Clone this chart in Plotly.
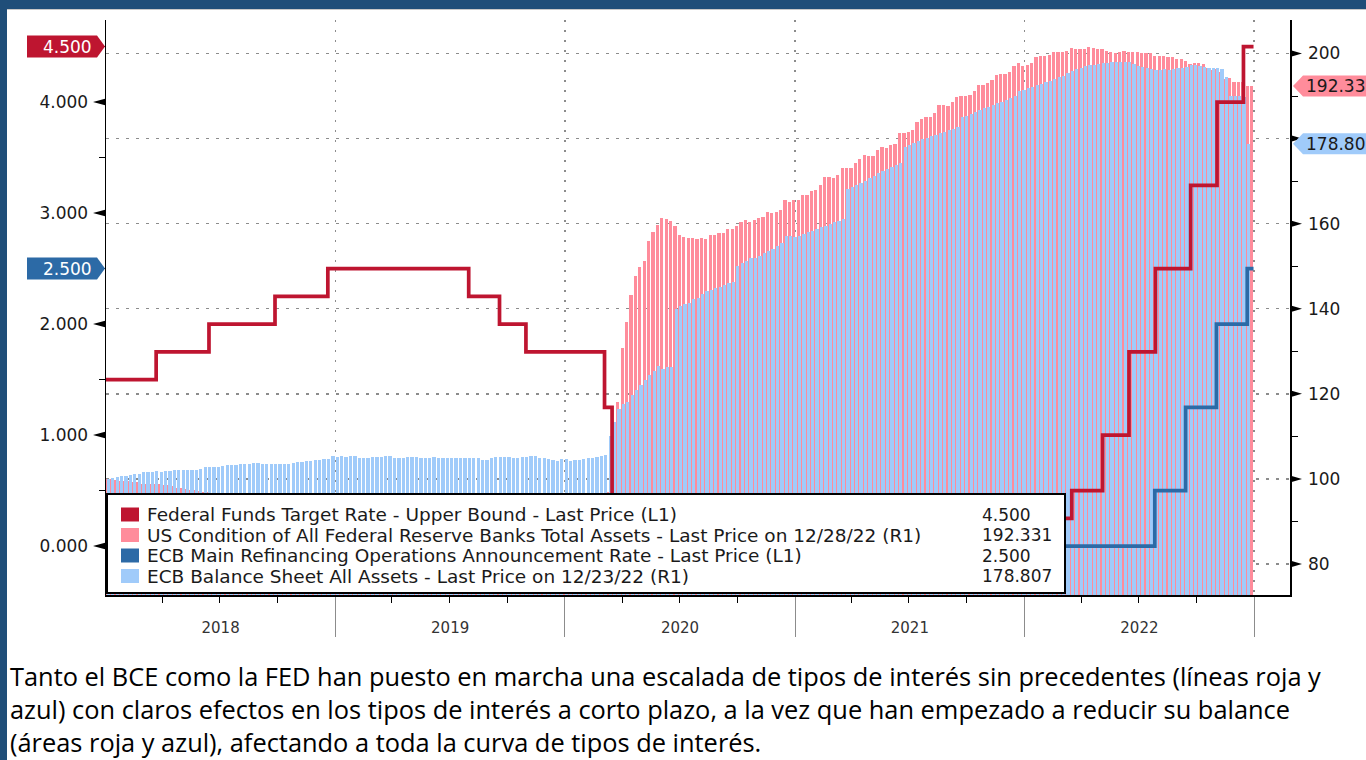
import plotly.graph_objects as go
import pandas as pd

# ---------------- DATA ----------------
# Weekly Fed total assets, indexed (R1), Wednesdays from 2018-01-03
fed_assets_2018 = [100.0, 99.9, 99.8, 99.6, 99.6,
                   99.4, 99.2, 99.3, 98.9,
                   98.9, 98.8, 98.7, 98.9,
                   98.6, 98.6, 98.3, 97.8,
                   97.8, 97.6, 97.3, 97.4, 97.2,
                   97.0, 96.9, 96.6, 96.6,
                   96.5, 96.1, 96.0, 95.9,
                   95.5, 95.2, 95.3, 94.9, 94.9,
                   94.7, 94.7, 94.3, 94.2,
                   93.7, 93.4, 93.4, 93.1, 92.9,
                   92.9, 92.5, 92.4, 92.3,
                   92.0, 91.7, 91.3, 91.3]
fed_assets_2019 = [91.1, 90.9, 91.1, 91.1, 90.8,
                   90.6, 90.4, 90.2, 90.0,
                   89.5, 89.1, 88.8, 88.4,
                   88.4, 88.8, 88.2, 88.2,
                   88.4, 88.4, 87.9, 87.9, 87.3,
                   86.8, 86.8, 86.1, 85.9,
                   85.7, 85.5, 85.7, 85.0, 85.5,
                   85.0, 84.8, 84.6, 84.6,
                   84.6, 85.0, 86.8, 87.0,
                   88.6, 88.8, 89.3, 89.5, 90.9,
                   90.9, 90.9, 91.3, 91.8,
                   92.2, 92.2, 92.7, 93.1]
fed_assets_2020 = [93.8, 93.6, 93.2, 93.3, 93.5,
                   93.7, 93.5, 94.1, 94.2,
                   95.4, 96.9, 105.1, 118.1,
                   130.7, 136.8, 143.3, 147.8, 149.8,
                   151.2, 155.9, 158.1, 159.7,
                   161.3, 161.2, 160.6, 159.5,
                   157.4, 156.8, 156.6, 156.6, 156.3,
                   156.6, 156.3, 157.4, 157.4,
                   157.7, 157.7, 158.8, 158.8, 159.5,
                   160.4, 160.8, 160.4, 160.8,
                   161.3, 161.5, 162.8, 162.4,
                   162.8, 163.1, 165.5, 165.1, 165.5]
fed_assets_2021 = [165.5, 166.7, 166.7, 167.6,
                   167.8, 169.1, 170.9, 170.9,
                   170.7, 171.4, 173.0, 173.0, 173.0,
                   174.3, 175.2, 176.1, 175.9,
                   175.9, 177.2, 178.1, 177.9,
                   178.6, 178.8, 181.3, 181.3, 181.5,
                   182.0, 183.8, 184.7, 185.1,
                   185.1, 186.0, 187.8, 187.8,
                   187.6, 188.7, 189.8, 190.1, 190.1,
                   190.3, 191.2, 192.5, 192.5,
                   193.0, 193.7, 195.0, 195.2,
                   195.2, 195.7, 197.0, 197.7, 197.0]
fed_assets_2022 = [197.3, 197.7, 199.1, 199.5,
                   199.5, 199.7, 200.4, 200.4,
                   200.4, 200.6, 201.3, 201.1, 201.1,
                   201.1, 201.5, 201.3, 201.1,
                   201.1, 200.6, 200.4, 200.2,
                   200.4, 200.6, 200.4, 200.4, 200.4,
                   200.2, 200.0, 200.2, 199.5,
                   199.5, 199.3, 199.1, 199.1, 198.8,
                   198.6, 198.2, 197.5, 197.7,
                   197.7, 197.5, 196.6, 196.1,
                   196.4, 195.7, 194.1, 194.3, 193.4,
                   193.4, 193.2, 192.3, 192.331]
fed_assets = fed_assets_2018 + fed_assets_2019 + fed_assets_2020 + fed_assets_2021 + fed_assets_2022
fed_assets_start = "2018-01-03"

# Weekly ECB balance sheet, indexed (R1), Fridays from 2018-01-05
ecb_assets_2018 = [100.0, 100.3, 100.5, 100.6,
                   100.8, 101.0, 101.2, 101.2,
                   101.6, 101.6, 101.7, 101.8, 101.7,
                   101.9, 101.9, 102.0, 102.0,
                   102.1, 102.1, 102.2, 102.2,
                   102.4, 102.8, 102.8, 102.8, 102.8,
                   103.1, 103.3, 103.3, 103.3,
                   103.4, 103.5, 103.5, 103.8, 103.8,
                   103.6, 103.5, 103.5, 103.6,
                   103.6, 103.6, 103.6, 103.8,
                   103.9, 103.9, 104.1, 104.3, 104.5,
                   104.5, 104.7, 104.7, 105.4]
ecb_assets_2019 = [105.2, 105.4, 105.1, 105.4,
                   105.3, 105.0, 105.0, 105.0,
                   105.1, 105.1, 105.2, 105.4, 105.3,
                   104.9, 104.9, 105.0, 105.2,
                   105.1, 105.1, 104.9, 104.9, 105.0,
                   105.1, 104.9, 104.8, 104.8,
                   104.8, 104.9, 104.8, 104.8,
                   104.8, 104.8, 104.8, 104.5, 104.5,
                   104.9, 105.1, 105.1, 105.2,
                   105.1, 104.9, 104.9, 105.1,
                   105.2, 105.4, 105.3, 105.0, 105.0,
                   104.7, 104.5, 104.2, 104.6]
ecb_assets_2020 = [104.6, 104.3, 104.4, 104.5, 104.6,
                   104.8, 104.9, 105.2, 105.4,
                   105.6, 110.1, 113.4, 116.5,
                   117.6, 118.1, 119.8, 120.9,
                   122.1, 123.3, 124.5, 125.4, 126.6,
                   125.9, 126.3, 126.3, 140.0,
                   140.7, 141.2, 141.4, 142.4, 142.6,
                   143.5, 144.2, 144.5, 144.9,
                   145.2, 145.6, 146.0, 146.4,
                   150.1, 150.8, 151.2, 152.0, 152.0,
                   152.3, 153.2, 153.6, 154.1,
                   154.8, 155.5, 157.0, 157.0]
ecb_assets_2021 = [156.8, 157.2, 157.6, 158.0, 158.3,
                   158.7, 159.1, 159.5, 159.9,
                   160.3, 160.7, 161.1, 168.2,
                   168.6, 169.1, 169.6, 170.0, 170.8,
                   171.3, 171.8, 172.3, 172.8,
                   173.3, 173.8, 174.3, 178.0,
                   178.5, 178.9, 179.4, 179.8, 180.2,
                   180.6, 180.9, 181.2, 181.5,
                   181.9, 182.3, 182.7, 185.0,
                   185.4, 185.8, 186.2, 186.6, 187.1,
                   187.5, 187.9, 188.3, 188.7,
                   189.1, 189.5, 189.9, 191.2, 191.5]
ecb_assets_2022 = [191.8, 192.2, 192.6, 192.9,
                   193.3, 193.6, 194.0, 194.4,
                   194.8, 195.3, 195.8, 196.3,
                   196.7, 197.0, 197.2, 197.4, 197.6,
                   197.7, 197.8, 197.9, 198.0,
                   198.0, 197.9, 197.9, 197.5,
                   197.0, 196.8, 196.5, 196.3, 196.2,
                   196.2, 196.3, 196.2, 196.3,
                   196.5, 196.6, 196.9, 197.2, 197.2,
                   197.0, 196.8, 196.7, 196.5,
                   196.5, 196.4, 194.4, 190.1,
                   190.0, 190.0, 189.8, 178.807]
ecb_assets = ecb_assets_2018 + ecb_assets_2019 + ecb_assets_2020 + ecb_assets_2021 + ecb_assets_2022
ecb_assets_start = "2018-01-05"

# Policy rates (L1), step changes
fed_rate_dates = ["2018-01-01", "2018-03-22", "2018-06-14", "2018-09-27", "2018-12-20",
                  "2019-08-01", "2019-09-19", "2019-10-31", "2020-03-04", "2020-03-16",
                  "2022-03-17", "2022-05-05", "2022-06-16", "2022-07-28", "2022-09-22",
                  "2022-11-03", "2022-12-15", "2022-12-31"]
fed_rate = [1.50, 1.75, 2.00, 2.25, 2.50, 2.25, 2.00, 1.75, 1.25, 0.25,
            0.50, 1.00, 1.75, 2.50, 3.25, 4.00, 4.50, 4.50]
ecb_rate_dates = ["2018-01-01", "2022-07-27", "2022-09-14", "2022-11-02", "2022-12-21", "2022-12-31"]
ecb_rate = [0.00, 0.50, 1.25, 2.00, 2.50, 2.50]

left_ticks = [0, 1, 2, 3, 4]
left_minor = [0.5, 1.5, 2.5, 3.5, 4.5]
right_ticks = [80, 100, 120, 140, 160, 180, 200]
right_ticktext = ["80", "100", "120", "140", "160", "", "200"]
right_minor = [90, 110, 130, 150, 170, 190]

legend_names = [
    "Federal Funds Target Rate - Upper Bound - Last Price (L1)",
    "US Condition of All Federal Reserve Banks Total Assets - Last Price on 12/28/22 (R1)",
    "ECB Main Refinancing Operations Announcement Rate - Last Price (L1)",
    "ECB Balance Sheet All Assets - Last Price on 12/23/22 (R1)",
]
caption_lines = [
    "Tanto el BCE como la FED han puesto en marcha una escalada de tipos de interés sin precedentes (líneas roja y",
    "azul) con claros efectos en los tipos de interés a corto plazo, a la vez que han empezado a reducir su balance",
    "(áreas roja y azul), afectando a toda la curva de tipos de interés.",
]

# ---------------- STYLE ----------------
C_FED_LINE = "#BE1530"
C_FED_BAR = "#FF8C9B"
C_ECB_LINE = "#2C6AA6"
C_ECB_BAR = "#A0CBFA"
C_FRAME = "#1F4E79"
TXT = "#1a1a1a"
FONT = "DejaVu Sans"

W, H = 1366, 760
PL, PR, PT, PB = 106, 1290, 20, 595
L_RANGE = [-0.441, 4.739]
R_RANGE = [72.71, 207.87]
L_PPU = (PB - PT) / (L_RANGE[1] - L_RANGE[0])
R_PPU = (PB - PT) / (R_RANGE[1] - R_RANGE[0])


def px(x):
    return (x - PL) / (PR - PL)


def py(y):
    return (PB - y) / (PB - PT)


fed_dates = pd.date_range(fed_assets_start, periods=len(fed_assets), freq="7D")
ecb_dates = pd.date_range(ecb_assets_start, periods=len(ecb_assets), freq="7D")
bar_w = 5.2 * 86400000

fig = go.Figure()
fig.add_trace(go.Bar(x=fed_dates, y=fed_assets, yaxis="y", width=bar_w,
                     marker=dict(color=C_FED_BAR, line=dict(width=0)), showlegend=False))
fig.add_trace(go.Bar(x=ecb_dates, y=ecb_assets, yaxis="y", width=bar_w,
                     marker=dict(color=C_ECB_BAR, line=dict(width=0)), showlegend=False))
fig.add_trace(go.Scatter(x=fed_rate_dates, y=fed_rate, yaxis="y2", mode="lines",
                         line=dict(color=C_FED_LINE, width=3.7, shape="hv"), showlegend=False))
fig.add_trace(go.Scatter(x=ecb_rate_dates, y=ecb_rate, yaxis="y2", mode="lines",
                         line=dict(color=C_ECB_LINE, width=3.7, shape="hv"), showlegend=False))

shapes = []
ann = []
# frame strips
shapes.append(dict(type="rect", xref="paper", yref="paper", x0=px(0), x1=px(7), y0=py(H), y1=py(0),
                   fillcolor=C_FRAME, line=dict(width=0), layer="above"))
shapes.append(dict(type="rect", xref="paper", yref="paper", x0=px(0), x1=px(W), y0=py(9), y1=py(0),
                   fillcolor=C_FRAME, line=dict(width=0), layer="above"))
shapes.append(dict(type="line", xref="paper", yref="paper", x0=px(7), x1=px(W), y0=py(9.5), y1=py(9.5),
                   line=dict(color="#c8c8c8", width=1), layer="above"))

# tick triangles
hl = 3.5 / L_PPU
for v in left_ticks:
    shapes.append(dict(type="path", xref="paper", yref="y2",
                       path=f"M {px(PL)},{v - hl} L {px(PL)},{v + hl} L {px(93)},{v} Z",
                       fillcolor="black", line=dict(width=0)))
hr = 3.5 / R_PPU
for v in right_ticks:
    shapes.append(dict(type="path", xref="paper", yref="y",
                       path=f"M {px(PR)},{v - hr} L {px(PR)},{v + hr} L {px(1302)},{v} Z",
                       fillcolor="black", line=dict(width=0)))

# value tags (left)
tl = 11 / L_PPU
for val, col in [(fed_rate[-1], C_FED_LINE), (ecb_rate[-1], C_ECB_LINE)]:
    shapes.append(dict(type="path", xref="paper", yref="y2",
                       path=(f"M {px(27)},{val - tl} L {px(97)},{val - tl} L {px(105)},{val} "
                             f"L {px(97)},{val + tl} L {px(27)},{val + tl} Z"),
                       fillcolor=col, line=dict(width=0)))
    ann.append(dict(xref="paper", yref="y2", x=px(94), y=val, xanchor="right", yanchor="middle",
                    text=f"{val:.3f}", showarrow=False, font=dict(family=FONT, size=17, color="white")))
# value tags (right)
tr = 10.5 / R_PPU
for val, col in [(fed_assets[-1], C_FED_BAR), (ecb_assets[-1], C_ECB_BAR)]:
    shapes.append(dict(type="path", xref="paper", yref="y",
                       path=(f"M {px(1293)},{val} L {px(1303)},{val - tr} L {px(1380)},{val - tr} "
                             f"L {px(1380)},{val + tr} L {px(1303)},{val + tr} Z"),
                       fillcolor=col, line=dict(width=0)))
    ann.append(dict(xref="paper", yref="y", x=px(1304), y=val, xanchor="left", yanchor="middle",
                    text=f"{val:.3f}", showarrow=False, font=dict(family=FONT, size=17, color=TXT)))

# manual legend
shapes.append(dict(type="rect", xref="paper", yref="paper", x0=px(107), x1=px(1065), y0=py(593), y1=py(494),
                   fillcolor="white", line=dict(color="black", width=2), layer="above"))
legend_cols = [C_FED_LINE, C_FED_BAR, C_ECB_LINE, C_ECB_BAR]
legend_vals = [f"{fed_rate[-1]:.3f}", f"{fed_assets[-1]:.3f}", f"{ecb_rate[-1]:.3f}", f"{ecb_assets[-1]:.3f}"]
row_y = [514.5, 535, 555.5, 576]
for name, col, val, yy in zip(legend_names, legend_cols, legend_vals, row_y):
    shapes.append(dict(type="rect", xref="paper", yref="paper", x0=px(121), x1=px(139),
                       y0=py(yy + 7), y1=py(yy - 7), fillcolor=col, line=dict(width=0), layer="above"))
    ann.append(dict(xref="paper", yref="paper", x=px(145), y=py(yy), xanchor="left", yanchor="middle",
                    text=name, showarrow=False, font=dict(family=FONT, size=18.5, color=TXT)))
    ann.append(dict(xref="paper", yref="paper", x=px(980), y=py(yy), xanchor="left", yanchor="middle",
                    text=val, showarrow=False, font=dict(family=FONT, size=17, color=TXT)))

# caption (single text block)
ann.append(dict(xref="paper", yref="paper", x=px(8), y=py(657), xanchor="left", yanchor="top",
                align="left", text="<br>".join(caption_lines), showarrow=False,
                font=dict(family="Open Sans", size=25.4, color="black")))

fig.update_layout(
    width=W, height=H, autosize=False,
    margin=dict(l=PL, r=W - PR, t=PT, b=H - PB, pad=0),
    paper_bgcolor="white", plot_bgcolor="white",
    barmode="overlay", bargap=0,
    shapes=shapes, annotations=ann,
    xaxis=dict(type="date", range=["2018-01-01 06:00", "2023-02-27"],
               tick0="2018-01-01", dtick="M12", ticklabelmode="period", tickformat="%Y",
               ticks="outside", ticklen=40, tickcolor="#8c8c8c", tickwidth=1,
               ticklabelstandoff=-22,
               tickfont=dict(family=FONT, size=15, color="#333333"),
               showgrid=True, gridcolor="#8c8c8c", griddash="2px,8px", gridwidth=1.5,
               showline=True, linecolor="black", linewidth=1.5, zeroline=False,
               minor=dict(tick0="2018-01-01", dtick="M3", ticks="outside", ticklen=6,
                          tickcolor="black", tickwidth=1, showgrid=False)),
    yaxis=dict(side="right", range=R_RANGE, tickmode="array", tickvals=right_ticks, ticktext=right_ticktext,
               ticks="outside", ticklen=13, tickcolor="rgba(0,0,0,0)",
               tickfont=dict(family=FONT, size=17, color=TXT),
               showgrid=True, gridcolor="#8c8c8c", griddash="3px,7px", gridwidth=1.5,
               showline=True, linecolor="black", linewidth=1.5, zeroline=False,
               minor=dict(tickmode="array", tickvals=right_minor, ticks="outside", ticklen=6,
                          tickcolor="black", tickwidth=1, showgrid=False)),
    yaxis2=dict(side="left", overlaying="y", range=L_RANGE, tickmode="array", tickvals=left_ticks,
                tickformat=".3f",
                ticks="outside", ticklen=13, tickcolor="rgba(0,0,0,0)",
                tickfont=dict(family=FONT, size=17, color=TXT),
                showgrid=False, showline=True, linecolor="black", linewidth=1.5, zeroline=False,
                minor=dict(tickmode="array", tickvals=left_minor, ticks="outside", ticklen=6,
                           tickcolor="black", tickwidth=1, showgrid=False)),
)

fig.write_html("out.html", config={"displayModeBar": False, "staticPlot": True},
               post_script="document.body.style.margin='0';document.body.style.overflow='hidden';")
